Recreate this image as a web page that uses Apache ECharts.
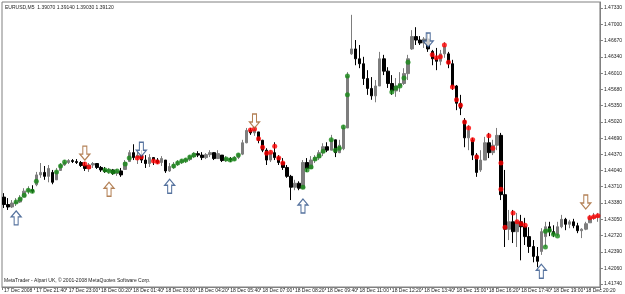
<!DOCTYPE html>
<html>
<head>
<meta charset="utf-8">
<script src="https://cdn.jsdelivr.net/npm/echarts@6/dist/echarts.min.js"></script>
<style>
  html, body { margin: 0; padding: 0; background: #fff; }
  #chart { width: 625px; height: 294px; }
</style>
</head>
<body>
<div id="chart"></div>
<script>
// EURUSD, bars every 10 minutes from 17 Dec 20:20
var opens = [
  1.4350,1.4335,1.4330,1.4338,1.4340,1.4350,1.4362,1.4365,1.4375,1.4395,
  1.4400,1.4392,1.4400,1.4385,1.4404,1.4415,1.4420,1.4424,1.4422,1.4420,
  1.4414,1.4408,1.4415,1.4418,1.4410,1.4405,1.4402,1.4405,1.4398,1.4403,
  1.4406,1.4422,1.4440,1.4430,1.4435,1.4425,1.4418,1.4430,1.4425,1.4420,
  1.4425,1.4403,1.4410,1.4416,1.4421,1.4424,1.4426,1.4432,1.4438,1.4435,
  1.4430,1.4436,1.4440,1.4428,1.4435,1.4424,1.4428,1.4425,1.4430,1.4437,
  1.4460,1.4485,1.4480,1.4482,1.4465,1.4445,1.4425,1.4440,1.4430,1.4420,
  1.4410,1.4392,1.4370,1.4378,1.4368,1.4420,1.4408,1.4425,1.4430,1.4440,
  1.4452,1.4445,1.4466,1.4440,1.4448,1.4490,1.4640,1.4650,1.4630,1.4620,
  1.4590,1.4570,1.4555,1.4575,1.4630,1.4605,1.4580,1.4565,1.4575,1.4580,
  1.4600,1.4650,1.4675,1.4668,1.4662,1.4670,1.4645,1.4630,1.4625,1.4640,
  1.4640,1.4620,1.4575,1.4540,1.4505,1.4470,1.4465,1.4435,1.4405,1.4425,
  1.4460,1.4440,1.4455,1.4475,1.4355,1.4285,1.4300,1.4280,1.4300,1.4290,
  1.4270,1.4250,1.4230,1.4240,1.4270,1.4290,1.4280,1.4275,1.4290,1.4305,
  1.4295,1.4300,1.4292,1.4282,1.4285,1.4298,1.4308,1.4310
];
var closes = [
  1.4335,1.4330,1.4338,1.4340,1.4348,1.4362,1.4365,1.4362,1.4395,1.4400,
  1.4392,1.4408,1.4380,1.4402,1.4415,1.4420,1.4424,1.4422,1.4420,1.4414,
  1.4408,1.4415,1.4418,1.4410,1.4405,1.4402,1.4405,1.4398,1.4403,1.4395,
  1.4420,1.4440,1.4430,1.4435,1.4425,1.4418,1.4430,1.4425,1.4420,1.4428,
  1.4403,1.4412,1.4416,1.4421,1.4424,1.4426,1.4432,1.4438,1.4435,1.4430,
  1.4436,1.4440,1.4428,1.4438,1.4424,1.4428,1.4425,1.4430,1.4437,1.4460,
  1.4485,1.4480,1.4486,1.4465,1.4445,1.4425,1.4440,1.4430,1.4420,1.4410,
  1.4392,1.4370,1.4378,1.4368,1.4420,1.4408,1.4425,1.4430,1.4440,1.4452,
  1.4445,1.4466,1.4440,1.4455,1.4490,1.4595,1.4650,1.4630,1.4620,1.4590,
  1.4570,1.4555,1.4575,1.4630,1.4605,1.4580,1.4565,1.4575,1.4580,1.4600,
  1.4630,1.4675,1.4668,1.4662,1.4670,1.4650,1.4630,1.4625,1.4640,1.4655,
  1.4620,1.4575,1.4540,1.4530,1.4470,1.4485,1.4435,1.4400,1.4425,1.4460,
  1.4440,1.4455,1.4475,1.4355,1.4285,1.4300,1.4280,1.4300,1.4290,1.4270,
  1.4250,1.4230,1.4220,1.4280,1.4290,1.4280,1.4275,1.4290,1.4305,1.4295,
  1.4300,1.4292,1.4282,1.4285,1.4296,1.4308,1.4310,1.4312
];
var lows = [
  1.4328,1.4324,1.4328,1.4332,1.4338,1.4350,1.4356,1.4358,1.4372,1.4389,
  1.4385,1.4380,1.4376,1.4387,1.4403,1.4413,1.4417,1.4419,1.4417,1.4411,
  1.4403,1.4401,1.4409,1.4407,1.4401,1.4399,1.4397,1.4395,1.4393,1.4391,
  1.4405,1.4421,1.4425,1.4417,1.4419,1.4409,1.4411,1.4415,1.4417,1.4413,
  1.4399,1.4401,1.4407,1.4413,1.4417,1.4419,1.4423,1.4429,1.4431,1.4425,
  1.4427,1.4431,1.4425,1.4429,1.4421,1.4421,1.4421,1.4423,1.4427,1.4435,
  1.4459,1.4476,1.4474,1.4459,1.4441,1.4415,1.4421,1.4425,1.4415,1.4405,
  1.4389,1.4344,1.4364,1.4364,1.4366,1.4401,1.4409,1.4419,1.4425,1.4433,
  1.4441,1.4445,1.4431,1.4439,1.4445,1.4490,1.4638,1.4617,1.4611,1.4577,
  1.4557,1.4547,1.4542,1.4593,1.4597,1.4571,1.4557,1.4553,1.4563,1.4577,
  1.4587,1.4648,1.4658,1.4658,1.4652,1.4644,1.4617,1.4607,1.4617,1.4632,
  1.4611,1.4567,1.4526,1.4516,1.4451,1.4445,1.4425,1.4391,1.4401,1.4425,
  1.4429,1.4435,1.4445,1.4344,1.4249,1.4263,1.4257,1.4249,1.4222,1.4253,
  1.4237,1.4218,1.4208,1.4233,1.4249,1.4271,1.4269,1.4271,1.4287,1.4283,
  1.4287,1.4287,1.4277,1.4267,1.4283,1.4298,1.4304,1.4300
];
var highs = [
  1.4358,1.4348,1.4344,1.4348,1.4354,1.4368,1.4372,1.4374,1.4401,1.4419,
  1.4413,1.4415,1.4405,1.4409,1.4419,1.4425,1.4427,1.4427,1.4427,1.4423,
  1.4421,1.4419,1.4421,1.4419,1.4413,1.4411,1.4409,1.4407,1.4407,1.4409,
  1.4425,1.4445,1.4457,1.4441,1.4445,1.4435,1.4437,1.4431,1.4429,1.4433,
  1.4425,1.4419,1.4421,1.4425,1.4427,1.4429,1.4435,1.4441,1.4443,1.4441,
  1.4439,1.4445,1.4441,1.4445,1.4435,1.4433,1.4431,1.4433,1.4439,1.4466,
  1.4490,1.4490,1.4494,1.4482,1.4466,1.4449,1.4445,1.4461,1.4435,1.4429,
  1.4415,1.4395,1.4385,1.4382,1.4425,1.4429,1.4433,1.4435,1.4445,1.4459,
  1.4461,1.4476,1.4466,1.4466,1.4496,1.4603,1.4719,1.4668,1.4658,1.4634,
  1.4607,1.4593,1.4587,1.4644,1.4638,1.4613,1.4597,1.4591,1.4603,1.4611,
  1.4638,1.4688,1.4694,1.4676,1.4674,1.4682,1.4648,1.4652,1.4648,1.4664,
  1.4644,1.4628,1.4577,1.4557,1.4510,1.4496,1.4470,1.4439,1.4445,1.4472,
  1.4480,1.4466,1.4490,1.4480,1.4405,1.4324,1.4324,1.4318,1.4314,1.4308,
  1.4289,1.4263,1.4249,1.4287,1.4300,1.4300,1.4293,1.4300,1.4314,1.4308,
  1.4304,1.4306,1.4298,1.4287,1.4300,1.4314,1.4318,1.4318
];

// indicator dots: [bar index, price]
var greenDots = [
  [3,1.4340],[4,1.4346],[5,1.4354],[6,1.4364],[7,1.4362],[8,1.4382],
  [13,1.4401],[14,1.4413],[15,1.4421],
  [25,1.4405],[26,1.4403],[27,1.4401],[28,1.4403],[30,1.4417],[31,1.4429],
  [42,1.4413],[43,1.4419],[44,1.4423],[45,1.4425],[46,1.4431],[47,1.4435],
  [55,1.4427],[56,1.4425],[57,1.4427],[58,1.4435],
  [74,1.4370],[75,1.4405],[76,1.4411],[77,1.4427],[78,1.4433],[79,1.4443],
  [81,1.4466],[82,1.4445],[83,1.4449],[84,1.4492],[85,1.4557],[85,1.4595],
  [96,1.4563],[97,1.4571],[98,1.4575],[99,1.4591],[100,1.4623],
  [134,1.4249],[134,1.4281],[135,1.4283],[136,1.4275],[137,1.4271]
];
var redDots = [
  [20,1.4417],[21,1.4411],[33,1.4429],[34,1.4431],[37,1.4423],[38,1.4421],
  [61,1.4486],[62,1.4488],[63,1.4468],[64,1.4451],[65,1.4439],[66,1.4441],
  [67,1.4453],[68,1.4429],[69,1.4419],
  [106,1.4638],[107,1.4632],[108,1.4634],[109,1.4658],[110,1.4623],[111,1.4573],
  [112,1.4547],[113,1.4536],[114,1.4502],[115,1.4490],[116,1.4466],[117,1.4431],
  [120,1.4474],[121,1.4449],[123,1.4419],[123,1.4366],[124,1.4289],
  [126,1.4318],[127,1.4300],[128,1.4296],[129,1.4293],
  [145,1.4308],[146,1.4310],[147,1.4312]
];

// arrows
var upArrowsBlue = [[3,1.4308],[41,1.4372],[74,1.4332],[133,1.4200]];
var upArrowsBrown = [[26,1.4366]];
var downArrowsBlue = [[34,1.4447],[105,1.4668]];
var downArrowsBrown = [[20,1.4439],[62,1.4504],[144,1.4340]];

var priceTicks = [1.4733,1.4700,1.4667,1.4634,1.4601,1.4568,1.4535,1.4502,1.4469,
  1.4437,1.4404,1.4371,1.4338,1.4305,1.4272,1.4239,1.4206,1.4174];
var timeTicks = ['17 Dec 2008','17 Dec 21:40','17 Dec 23:00','18 Dec 00:20','18 Dec 01:40',
  '18 Dec 03:00','18 Dec 04:20','18 Dec 05:40','18 Dec 07:00','18 Dec 08:20','18 Dec 09:40',
  '18 Dec 11:00','18 Dec 12:20','18 Dec 13:40','18 Dec 15:00','18 Dec 16:20','18 Dec 17:40',
  '18 Dec 19:00','18 Dec 20:20'];
var barsPerTick = 8;

var categories = [];
for (var i = 0; i < highs.length; i++) {
  var t = new Date(Date.UTC(2008, 11, 17, 20, 20) + i * 600000);
  categories.push(t.getUTCDate() + ' Dec ' + ('0' + t.getUTCHours()).slice(-2) + ':' + ('0' + t.getUTCMinutes()).slice(-2));
}
var candles = highs.map(function (h, i) { return [opens[i], closes[i], lows[i], h]; });

var upPath = 'path://M5,0 L10,6 L7,6 L7,14 L3,14 L3,6 L0,6 Z';
var downPath = 'path://M5,14 L10,8 L7,8 L7,0 L3,0 L3,8 L0,8 Z';
var font = 'Liberation Sans';

function arrows(data, path, color) {
  return {
    type: 'scatter', data: data, symbol: path, symbolSize: [10, 14],
    itemStyle: { color: '#fff', borderColor: color, borderWidth: 1.2 },
    z: 5
  };
}

var chart = echarts.init(document.getElementById('chart'));
chart.setOption({
  animation: false,
  grid: { left: 2, right: 19, top: 2, bottom: 7, show: true, borderColor: '#808080', borderWidth: 1 },
  xAxis: {
    type: 'category', data: categories, boundaryGap: true,
    axisLine: { lineStyle: { color: '#808080' } },
    axisTick: { show: true, length: 3, interval: function (idx) { return idx % barsPerTick === 0; }, lineStyle: { color: '#808080' } },
    axisLabel: {
      interval: function (idx) { return idx % barsPerTick === 0; },
      formatter: function (v, idx) { return timeTicks[idx / barsPerTick] || ''; },
      fontSize: 5, fontFamily: font, color: '#222', align: 'left', margin: 1
    },
    splitLine: { show: false }
  },
  yAxis: {
    type: 'value', position: 'right', min: 1.4168, max: 1.4745, scale: true,
    axisLine: { show: true, lineStyle: { color: '#808080' } },
    axisTick: { show: true, length: 3, customValues: priceTicks, lineStyle: { color: '#808080' } },
    axisLabel: {
      customValues: priceTicks, fontSize: 5, fontFamily: font, color: '#222', margin: 4,
      formatter: function (v) { return v.toFixed(5); }
    },
    splitLine: { show: false }
  },
  series: [
    {
      type: 'candlestick', data: candles, barWidth: 3,
      itemStyle: { color: '#7d7d7d', color0: '#000', borderColor: '#7d7d7d', borderColor0: '#000', borderWidth: 1 }
    },
    { type: 'scatter', data: greenDots, symbolSize: 5, itemStyle: { color: '#188a18' }, z: 4 },
    { type: 'scatter', data: redDots, symbolSize: 5, itemStyle: { color: '#ff0000' }, z: 4 },
    arrows(upArrowsBlue, upPath, '#2b4f86'),
    arrows(upArrowsBrown, upPath, '#a0622c'),
    arrows(downArrowsBlue, downPath, '#2b4f86'),
    arrows(downArrowsBrown, downPath, '#a0622c')
  ],
  graphic: [
    { type: 'text', left: 5, top: 5, style: { text: 'EURUSD,M5  1.39070 1.39140 1.39030 1.39120', fontSize: 5, fontFamily: font, fill: '#222' } },
    { type: 'text', left: 4, top: 278, style: { text: 'MetaTrader - Alpari UK, © 2001-2008 MetaQuotes Software Corp.', fontSize: 5, fontFamily: font, fill: '#222' } }
  ]
});
</script>
</body>
</html>
